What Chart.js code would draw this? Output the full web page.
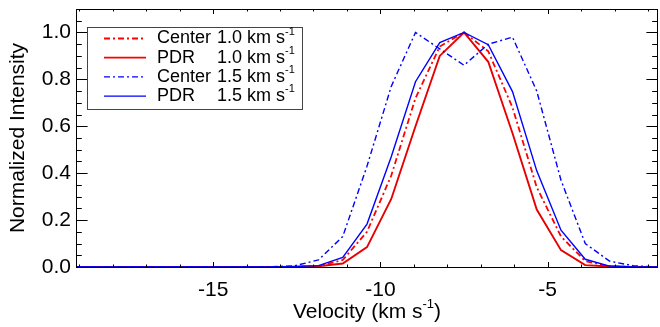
<!DOCTYPE html>
<html>
<head>
<meta charset="utf-8">
<script src="https://cdn.jsdelivr.net/npm/chart.js@4.4.0/dist/chart.umd.min.js"></script>
<style>
  html, body { margin: 0; padding: 0; background: #fff; }
  #wrap { width: 660px; height: 327px; }
</style>
</head>
<body>
<div id="wrap"><canvas id="chart" width="660" height="327"></canvas></div>
<script>
// Canales de velocidad (km/s)
const velocity = [-19.1, -18.375, -17.65, -16.925, -16.2, -15.475, -14.75, -14.025, -13.3,
  -12.575, -11.85, -11.125, -10.4, -9.675, -8.95, -8.225, -7.5, -6.775, -6.05, -5.325,
  -4.6, -3.875, -3.15, -2.425, -1.7];

// Intensidades normalizadas
const center10 = [0, 0, 0, 0, 0, 0, 0, 0, 0,
  0.001, 0.004, 0.03, 0.15, 0.39, 0.72, 0.94, 1.0, 0.92, 0.68, 0.34,
  0.13, 0.025, 0.003, 0, 0];
const pdr10 = [0, 0, 0, 0, 0, 0, 0, 0, 0,
  0, 0.003, 0.015, 0.085, 0.29, 0.60, 0.90, 1.0, 0.875, 0.57, 0.245,
  0.072, 0.008, 0.002, 0, 0];
const center15 = [0, 0, 0, 0, 0, 0, 0, 0, 0.001,
  0.005, 0.03, 0.13, 0.43, 0.77, 1.0, 0.93, 0.86, 0.95, 0.98, 0.75,
  0.37, 0.10, 0.025, 0.005, 0];
const pdr15 = [0, 0, 0, 0, 0, 0, 0, 0, 0,
  0.002, 0.006, 0.041, 0.183, 0.47, 0.79, 0.957, 1.0, 0.948, 0.748, 0.41,
  0.157, 0.033, 0.004, 0, 0];

// Etiquetas de los ejes
const xTickLabels = [-15, -10, -5];
const yTickLabels = [0.0, 0.2, 0.4, 0.6, 0.8, 1.0];

const legendRows = [
  { name: 'Center', speed: '1.0', color: '#ff0000', dash: [6, 3, 2, 3], width: 1.8 },
  { name: 'PDR', speed: '1.0', color: '#ff0000', dash: [], width: 1.8 },
  { name: 'Center', speed: '1.5', color: '#0000ff', dash: [6, 3, 2, 3], width: 1.4 },
  { name: 'PDR', speed: '1.5', color: '#0000ff', dash: [], width: 1.4 }
];

const FONT = '"Liberation Sans", Arial, Helvetica, sans-serif';

function pts(arr) {
  return velocity.map((v, i) => ({ x: v, y: arr[i] }));
}

// Ejes estilo IDL: caja cerrada con marcas hacia dentro
const boxPlugin = {
  id: 'idlBox',
  afterDatasetsDraw(chart) {
    const { ctx, chartArea: a, scales: { x, y } } = chart;
    ctx.save();
    ctx.strokeStyle = '#000';
    ctx.lineWidth = 1;
    ctx.strokeRect(a.left + 0.5, a.top + 0.5, a.right - a.left - 1, a.bottom - a.top);
    ctx.beginPath();
    for (let v = -19; v <= -2; v++) {
      const px = Math.round(x.getPixelForValue(v)) + 0.5;
      const len = v % 5 === 0 ? 5 : 2.5;
      ctx.moveTo(px, a.bottom); ctx.lineTo(px, a.bottom - len);
      ctx.moveTo(px, a.top); ctx.lineTo(px, a.top + len);
    }
    for (let k = 0; k <= 22; k++) {
      const v = k * 0.05;
      const py = Math.round(y.getPixelForValue(v)) + 0.5;
      const len = k % 4 === 0 ? 11.6 : 5.8;
      ctx.moveTo(a.left, py); ctx.lineTo(a.left + len, py);
      ctx.moveTo(a.right, py); ctx.lineTo(a.right - len, py);
    }
    ctx.stroke();
    ctx.restore();
  },
  afterDraw(chart) {
    const { ctx, chartArea: a } = chart;
    ctx.save();
    ctx.fillStyle = '#000';
    ctx.textBaseline = 'middle';

    // Titulo eje x con superindice
    ctx.font = '21px ' + FONT;
    const main = 'Velocity (km s';
    const sup = '-1';
    const close = ')';
    const wMain = ctx.measureText(main).width;
    const wClose = ctx.measureText(close).width;
    ctx.font = '13px ' + FONT;
    const wSup = ctx.measureText(sup).width;
    const cx = (a.left + a.right) / 2;
    let tx = cx - (wMain + wSup + wClose) / 2;
    const ty = 312;
    ctx.font = '21px ' + FONT;
    ctx.textAlign = 'left';
    ctx.fillText(main, tx, ty);
    ctx.font = '13px ' + FONT;
    ctx.fillText(sup, tx + wMain, ty - 8);
    ctx.font = '21px ' + FONT;
    ctx.fillText(close, tx + wMain + wSup, ty);

    // Titulo eje y
    ctx.save();
    ctx.translate(18, (a.top + a.bottom) / 2);
    ctx.rotate(-Math.PI / 2);
    ctx.textAlign = 'center';
    ctx.fillText('Normalized Intensity', 0, 0);
    ctx.restore();

    // Leyenda
    const lx = 87, ltop = 27, lw = 215, lh = 82;
    ctx.fillStyle = '#fff';
    ctx.fillRect(lx, ltop, lw, lh);
    ctx.strokeStyle = '#444';
    ctx.lineWidth = 1;
    ctx.strokeRect(lx + 0.5, ltop + 0.5, lw, lh);
    legendRows.forEach((r, i) => {
      const ry = 38.5 + i * 19.2;
      ctx.strokeStyle = r.color;
      ctx.lineWidth = r.width;
      ctx.setLineDash(r.dash);
      ctx.beginPath();
      ctx.moveTo(104, ry); ctx.lineTo(146, ry);
      ctx.stroke();
      ctx.setLineDash([]);
      ctx.fillStyle = '#000';
      ctx.font = '18px ' + FONT;
      ctx.textAlign = 'left';
      ctx.fillText(r.name, 157, ry);
      const t = r.speed + ' km s';
      ctx.fillText(t, 217, ry);
      const w = ctx.measureText(t).width;
      ctx.font = '11px ' + FONT;
      ctx.fillText('-1', 217 + w, ry - 7);
    });
    ctx.restore();
  }
};

const lineDefaults = { pointRadius: 0, tension: 0, fill: false };

new Chart(document.getElementById('chart'), {
  type: 'line',
  data: {
    datasets: [
      // primero se dibuja encima
      { ...lineDefaults, label: 'PDR 1.5', data: pts(pdr15), borderColor: '#0000ff', borderWidth: 1.4 },
      { ...lineDefaults, label: 'Center 1.5', data: pts(center15), borderColor: '#0000ff', borderWidth: 1.4, borderDash: [6, 3, 2, 3] },
      { ...lineDefaults, label: 'PDR 1.0', data: pts(pdr10), borderColor: '#e80000', borderWidth: 1.9 },
      { ...lineDefaults, label: 'Center 1.0', data: pts(center10), borderColor: '#ff0000', borderWidth: 1.8, borderDash: [6, 3, 2, 3] }
    ]
  },
  options: {
    responsive: false,
    devicePixelRatio: 1,
    animation: false,
    layout: { padding: { left: 0, top: 9, right: 2, bottom: 0 } },
    scales: {
      x: {
        type: 'linear',
        min: -19.1,
        max: -1.7,
        grid: { display: false, drawTicks: false },
        border: { display: false },
        afterBuildTicks: s => { s.ticks = xTickLabels.map(v => ({ value: v })); },
        afterFit: s => { s.height = 60; s.paddingLeft = 0; s.paddingRight = 0; },
        ticks: { color: '#000', font: { family: FONT, size: 21 }, padding: 11, maxRotation: 0 }
      },
      y: {
        min: 0,
        max: 1.1,
        grid: { display: false, drawTicks: false },
        border: { display: false },
        afterBuildTicks: s => { s.ticks = yTickLabels.map(v => ({ value: v })); },
        afterFit: s => { s.width = 76; s.paddingTop = 0; s.paddingBottom = 0; },
        ticks: { color: '#000', font: { family: FONT, size: 21 }, padding: 5, callback: v => v.toFixed(1) }
      }
    },
    plugins: { legend: { display: false }, tooltip: { enabled: false } }
  },
  plugins: [boxPlugin]
});
</script>
</body>
</html>
